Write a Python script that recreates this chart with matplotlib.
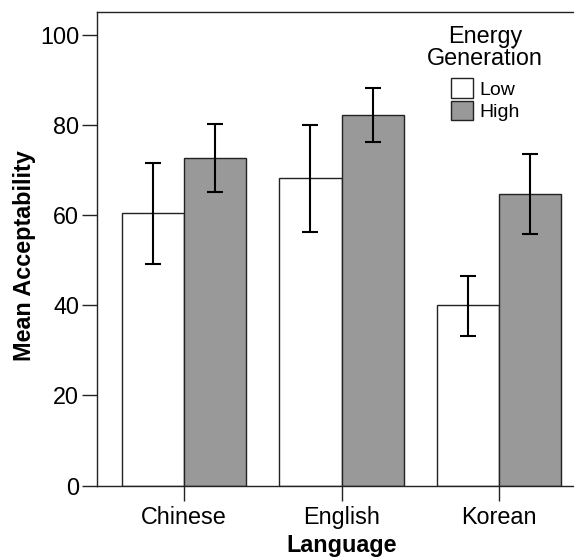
import numpy as np
import matplotlib
matplotlib.use("Agg")
import matplotlib.pyplot as plt

plt.rcParams["font.family"] = ["Liberation Sans", "DejaVu Sans"]

languages = ["Chinese", "English", "Korean"]
groups = ["Low", "High"]

# means and 95% CI bounds
low_mean = [60.4, 68.2, 40.0]
low_lo = [49.2, 56.3, 33.3]
low_hi = [71.6, 80.0, 46.6]

high_mean = [72.7, 82.2, 64.7]
high_lo = [65.1, 76.3, 55.9]
high_hi = [80.2, 88.2, 73.5]

yticks = [0, 20, 40, 60, 80, 100]

fig = plt.figure(figsize=(5.74, 5.58), dpi=100)
ax = fig.add_axes([0.1695, 0.1296, 0.8509, 0.8494])

x = np.arange(len(languages))
w = 0.3956

def err(mean, lo, hi):
    mean = np.array(mean)
    return [mean - np.array(lo), np.array(hi) - mean]

ax.bar(x - w / 2, low_mean, w, color="white", edgecolor="#222222",
       linewidth=1.0, label=groups[0], zorder=2)
ax.bar(x + w / 2, high_mean, w, color="#999999", edgecolor="#222222",
       linewidth=1.0, label=groups[1], zorder=2)

ax.errorbar(x - w / 2, low_mean, yerr=err(low_mean, low_lo, low_hi),
            fmt="none", ecolor="black", elinewidth=1.5, capsize=5.8,
            capthick=1.5, zorder=3)
ax.errorbar(x + w / 2, high_mean, yerr=err(high_mean, high_lo, high_hi),
            fmt="none", ecolor="black", elinewidth=1.5, capsize=5.8,
            capthick=1.5, zorder=3)

ax.set_xlim(-0.5505, 2.5505)
ax.set_ylim(0, 105.1)
ax.set_xticks(x)
ax.set_xticklabels(languages)
ax.set_yticks(yticks)

ax.tick_params(axis="both", labelsize=16.8, length=10.5, width=1.0,
               color="#222222")
ax.tick_params(axis="y", pad=2.5)
ax.tick_params(axis="x", pad=4)

for s in ax.spines.values():
    s.set_linewidth(1.0)
    s.set_color("#222222")

ax.set_xlabel("Language", fontsize=16.8, fontweight="bold", labelpad=3.5)
ax.set_ylabel("Mean Acceptability", fontsize=16.8, fontweight="bold",
              labelpad=3, y=0.485)

leg = ax.legend(title="Energy\nGeneration", loc="upper center",
                bbox_to_anchor=(485 / 574, 1 - 25 / 558),
                bbox_transform=fig.transFigure, frameon=False,
                fontsize=14, title_fontsize=16.8, handlelength=1.15,
                handleheight=1.15, handletextpad=0.3, labelspacing=0.1,
                borderpad=0, borderaxespad=0)
leg.get_title().set_linespacing(0.95)
leg.get_title().set_multialignment("center")
leg._legend_box.sep = 6

fig.savefig("out.png", dpi=100)
